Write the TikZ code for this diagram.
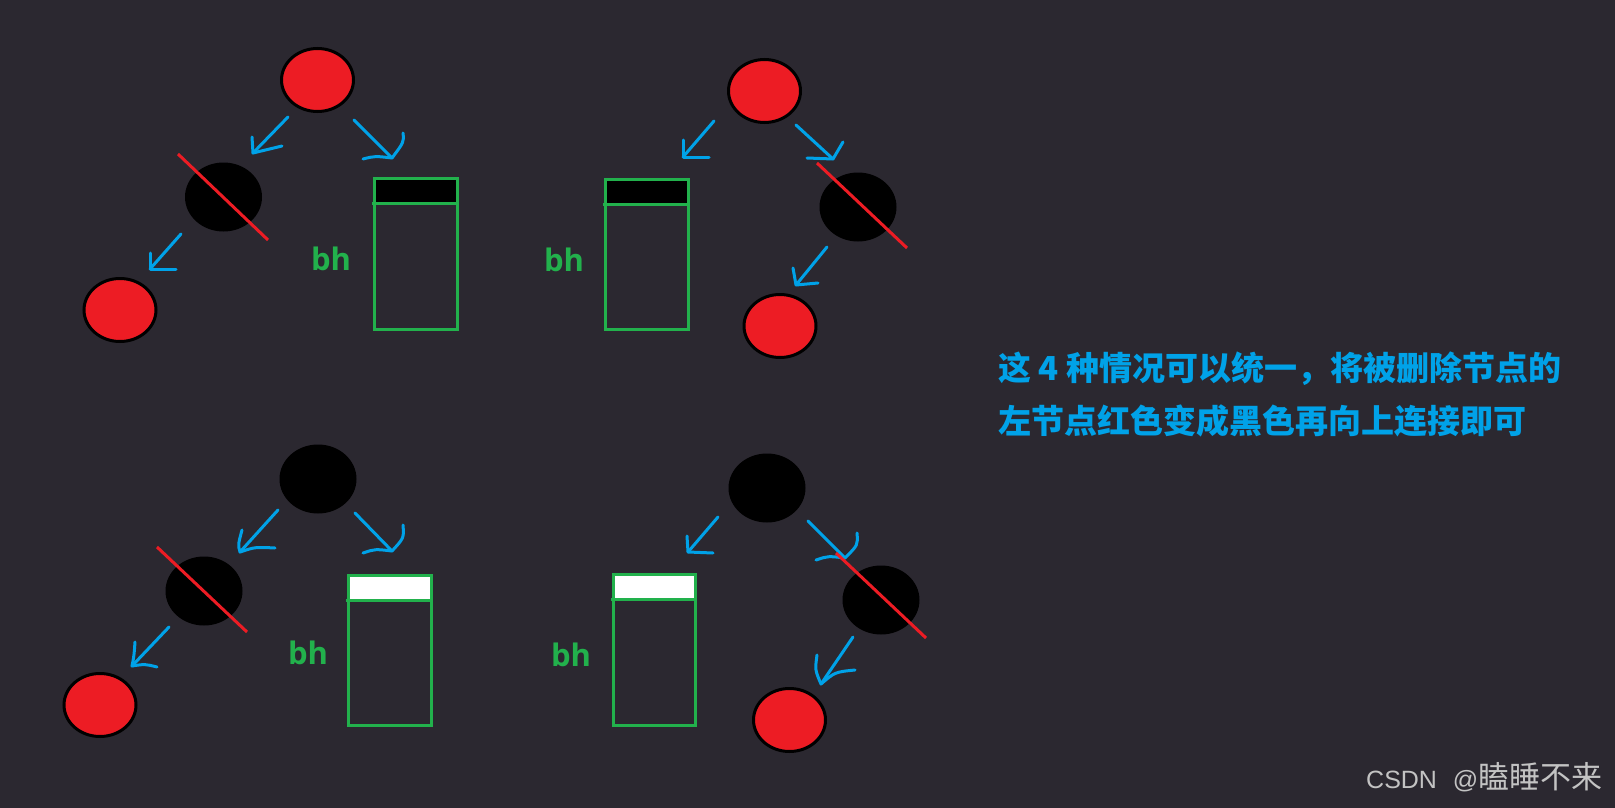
\documentclass[tikz,border=0pt]{standalone}
\usepackage{fontspec}
\usetikzlibrary{shapes.geometric}
\newfontfamily\cjkfont{Noto Sans CJK SC}
\newfontfamily\latinfont{Liberation Sans}
\newfontfamily\bhfont{Open Sans}
\definecolor{bgc}{RGB}{43,40,48}
\definecolor{pred}{RGB}{237,28,36}
\definecolor{pblue}{RGB}{0,162,232}
\definecolor{pgreen}{RGB}{34,177,76}
\definecolor{wmgray}{RGB}{195,195,195}
\tikzset{
  rednode/.style={ellipse, draw=black, line width=3pt, fill=pred, inner sep=0pt, minimum width=72pt, minimum height=63pt},
  blacknode/.style={ellipse, fill=black, inner sep=0pt, minimum width=77pt, minimum height=69pt},
  arrowline/.style={draw=pblue, line width=3pt, line cap=round, line join=round},
  slashline/.style={draw=pred, line width=3pt},
  boxline/.style={draw=pgreen, line width=3pt},
  bhlabel/.style={text=pgreen, font=\bhfont\bfseries\fontsize{31}{36}\selectfont, inner sep=0pt},
  infotext/.style={text=pblue, font=\cjkfont\bfseries\fontsize{33}{40}\selectfont, inner sep=0pt, anchor=base west},
}
\begin{document}
\begin{tikzpicture}[x=1pt, y=-1pt]
\fill[bgc] (0,0) rectangle (1615,808);
\useasboundingbox (0,0) rectangle (1615,808);

% ---------- top-left ----------
\node[rednode] (r1) at (317.5,80) {};
\node[blacknode] (b1) at (223.5,197) {};
\node[rednode] (r2) at (120,310) {};
\coordinate (a1s) at (288,117); \coordinate (a1t) at (253,153);
\coordinate (a1p) at (252,137); \coordinate (a1q) at (282,146);
\coordinate (a2s) at (354,120); \coordinate (a2t) at (392,158);
\coordinate (a2p) at (403,133); \coordinate (a2q) at (363,159);
\coordinate (a3s) at (181,234); \coordinate (a3t) at (150,269);
\coordinate (a3p) at (150,253); \coordinate (a3q) at (176,269);
\draw[arrowline] (a1s) -- (a1t); \draw[arrowline] (a1p) -- (a1t) -- (a1q);
\draw[arrowline] (a2s) -- (a2t); \draw[arrowline] (a2p) .. controls (404,142) .. (a2t) .. controls (375,156) .. (a2q);
\draw[arrowline] (a3s) -- (a3t); \draw[arrowline] (a3p) -- (a3t) -- (a3q);
\fill[black] (374,178) rectangle (457,203);
\draw[boxline] (374,178) rectangle (457,329);
\draw[boxline] (372,203) -- (459,203);
\node[bhlabel] (bh1) at (331,259) {bh};
\coordinate (s1a) at (178,154); \coordinate (s1b) at (268,240);
\draw[slashline] (s1a) -- (s1b);

% ---------- top-right ----------
\node[rednode] (r3) at (764.5,91) {};
\node[blacknode] (b2) at (858,207) {};
\node[rednode] (r4) at (780,326) {};
\coordinate (a4s) at (714,121); \coordinate (a4t) at (683,157);
\coordinate (a4p) at (683,140); \coordinate (a4q) at (709,157);
\coordinate (a5s) at (796,125); \coordinate (a5t) at (833,159);
\coordinate (a5p) at (843,142); \coordinate (a5q) at (807,158);
\coordinate (a6s) at (827,247); \coordinate (a6t) at (796,285);
\coordinate (a6p) at (793,268); \coordinate (a6q) at (818,283);
\draw[arrowline] (a4s) -- (a4t); \draw[arrowline] (a4p) -- (a4t) -- (a4q);
\draw[arrowline] (a5s) -- (a5t); \draw[arrowline] (a5p) -- (a5t) -- (a5q);
\draw[arrowline] (a6s) -- (a6t); \draw[arrowline] (a6p) -- (a6t) -- (a6q);
\fill[black] (605,179) rectangle (688,204);
\draw[boxline] (605,179) rectangle (688,329);
\draw[boxline] (603,204) -- (690,204);
\node[bhlabel] (bh2) at (564,260) {bh};
\coordinate (s2a) at (817,163); \coordinate (s2b) at (907,248);
\draw[slashline] (s2a) -- (s2b);

% ---------- bottom-left ----------
\node[blacknode] (b3) at (318,479) {};
\node[blacknode] (b4) at (204,591) {};
\node[rednode] (r5) at (100,705) {};
\coordinate (a7s) at (278,510); \coordinate (a7t) at (240,552);
\coordinate (a7p) at (242,530); \coordinate (a7q) at (275,548);
\coordinate (a8s) at (355,513); \coordinate (a8t) at (392,551);
\coordinate (a8p) at (403,525); \coordinate (a8q) at (363,553);
\coordinate (a9s) at (169,627); \coordinate (a9t) at (132,666);
\coordinate (a9p) at (135,642); \coordinate (a9q) at (157,667);
\draw[arrowline] (a7s) -- (a7t); \draw[arrowline] (a7p) .. controls (238,545) .. (a7t) .. controls (255,547) .. (a7q);
\draw[arrowline] (a8s) -- (a8t); \draw[arrowline] (a8p) .. controls (404,538) .. (a8t) .. controls (375,549) .. (a8q);
\draw[arrowline] (a9s) -- (a9t); \draw[arrowline] (a9p) .. controls (134,656) .. (a9t) .. controls (145,664) .. (a9q);
\fill[white] (348,575) rectangle (431,600);
\draw[boxline] (348,575) rectangle (431,725);
\draw[boxline] (346,600) -- (433,600);
\node[bhlabel] (bh3) at (308,653) {bh};
\coordinate (s3a) at (157,547); \coordinate (s3b) at (247,632);
\draw[slashline] (s3a) -- (s3b);

% ---------- bottom-right ----------
\node[blacknode] (b5) at (767,488) {};
\node[blacknode] (b6) at (881,600) {};
\node[rednode] (r6) at (789.5,720) {};
\coordinate (a10s) at (718,517); \coordinate (a10t) at (688,552);
\coordinate (a10p) at (687,536); \coordinate (a10q) at (713,553);
\coordinate (a11s) at (808,521); \coordinate (a11t) at (845,558);
\coordinate (a11p) at (857,533); \coordinate (a11q) at (816,560);
\coordinate (a12s) at (853,637); \coordinate (a12t) at (821,684);
\coordinate (a12p) at (817,655); \coordinate (a12q) at (855,670);
\draw[arrowline] (a10s) -- (a10t); \draw[arrowline] (a10p) -- (a10t) -- (a10q);
\draw[arrowline] (a11s) -- (a11t); \draw[arrowline] (a11p) .. controls (858,545) .. (a11t) .. controls (828,556) .. (a11q);
\draw[arrowline] (a12s) -- (a12t); \draw[arrowline] (a12p) .. controls (815,670) .. (a12t) .. controls (835,672) .. (a12q);
\fill[white] (613,574) rectangle (695,599);
\draw[boxline] (613,574) rectangle (695,725);
\draw[boxline] (611,599) -- (697,599);
\node[bhlabel] (bh4) at (571,655) {bh};
\coordinate (s4a) at (836,553); \coordinate (s4b) at (926,638);
\draw[slashline] (s4a) -- (s4b);

% ---------- text ----------
\node[infotext] (t1) at (998,380) {这 4 种情况可以统一，将被删除节点的};
\node[infotext] (t2) at (998,433) {左节点红色变成黑色再向上连接即可};
\node[text=wmgray, inner sep=0pt, anchor=base west] (wm) at (1366,788)
  {{\latinfont\fontsize{25}{30}\selectfont CSDN\hspace{9pt} @}{\cjkfont\fontsize{31}{36}\selectfont 瞌睡不来}};
\end{tikzpicture}
\end{document}
